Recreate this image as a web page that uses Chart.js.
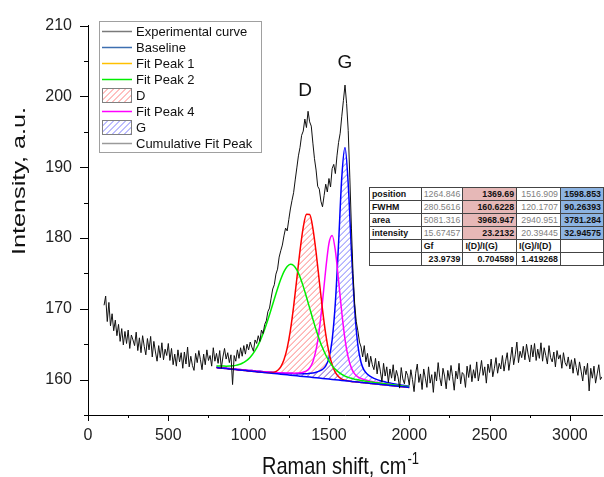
<!DOCTYPE html>
<html>
<head>
<meta charset="utf-8">
<script src="https://cdn.jsdelivr.net/npm/chart.js@4.4.0/dist/chart.umd.min.js"></script>
<style>
  html, body { margin: 0; padding: 0; background: #fff; }
  #wrap { position: relative; width: 604px; height: 477px; }
  #fitTable {
    position: absolute; left: 369px; top: 187px;
    border-collapse: collapse; table-layout: fixed;
    font-family: 'Liberation Sans', Arial, sans-serif; font-size: 8.8px;
    background: #fff;
  }
  #fitTable td {
    border: 1px solid #444; height: 12px; padding: 0 2px;
    text-align: right; color: #7f7f7f; white-space: nowrap; overflow: hidden;
  }
  #fitTable td.lbl { text-align: left; font-weight: bold; color: #111; }
  #fitTable td.hd { text-align: left; font-weight: bold; color: #111; }
  #fitTable td.b { font-weight: bold; color: #111; }
  #fitTable td.pink { background: #e6b8b7; font-weight: bold; color: #111; }
  #fitTable td.blue { background: #8db4e2; font-weight: bold; color: #111; }
</style>
</head>
<body>
<div id="wrap">
  <canvas id="ramanChart" width="604" height="477"></canvas>
  <table id="fitTable"></table>
</div>
<script>
// tick labels
const xTicks = [0, 500, 1000, 1500, 2000, 2500, 3000]
const yTicks = [160, 170, 180, 190, 200, 210]

// experimental spectrum, 100..3200 cm-1 every 10
const expShift = Array.from({ length: 311 }, (_, i) => 100 + i * 10)
const expIntensity = [
    170.5, 171.8, 168.2, 170.9, 167.6, 169.3, 166.9, 168.4, 166.2, 167.8,
    165.4, 167.2, 164.9, 166.8, 165.1, 167.0, 164.4, 166.3, 165.6, 164.8,
    166.7, 164.1, 165.9, 163.8, 166.2, 164.7, 163.5, 165.8, 164.2, 166.1,
    163.2, 165.4, 163.9, 162.6, 164.8, 163.1, 165.2, 162.8, 164.3, 163.4,
    165.1, 162.7, 164.4, 162.1, 163.6, 161.9, 164.2, 162.5, 163.8, 161.6,
    163.9, 162.2, 164.6, 161.8, 163.3, 162.0, 161.3, 163.7, 162.4, 164.1,
    162.8, 161.4, 163.6, 162.1, 164.2, 162.7, 163.4, 161.9, 164.5, 162.6,
    163.7, 162.3, 164.1, 161.6, 163.2, 164.4, 162.9, 163.8, 162.4, 163.5,
    159.3, 163.4, 162.6, 164.2, 163.0, 164.5, 163.3, 164.8, 163.6, 165.0,
    164.2, 165.3, 164.6, 164.0, 165.6, 165.1, 166.2, 165.4, 167.0, 166.5,
    167.8, 168.3, 169.6, 170.1, 171.5, 172.8, 173.4, 174.9, 175.6, 177.3,
    178.2, 179.0, 180.3, 181.4, 181.0, 182.6, 184.1, 185.3, 186.4, 188.2,
    189.9, 191.6, 192.8, 194.5, 195.1, 196.8, 195.6, 197.9, 196.4, 195.8,
    193.4, 191.2, 189.6, 187.3, 186.9, 185.2, 184.4, 186.0, 187.6, 186.5,
    188.4, 187.2, 189.8, 190.4, 189.1, 191.6, 193.5, 194.8, 197.2, 199.4,
    201.6, 199.0, 195.2, 188.6, 181.4, 175.0, 170.8, 168.2, 166.9, 165.3,
    164.6, 163.2, 164.8, 162.5, 163.7, 161.8, 163.3, 162.1, 161.4, 163.0,
    160.8, 162.6, 161.2, 159.7, 162.3, 160.5, 161.8, 159.6, 161.5, 160.2,
    162.1, 159.8, 161.3, 160.4, 158.8, 161.7, 160.1, 159.4, 161.2, 160.6,
    159.2, 161.4, 160.0, 158.3, 160.9, 162.2, 159.6, 160.8, 158.6, 161.5,
    160.2, 158.9, 161.8, 159.5, 160.7, 158.2, 161.1, 159.8, 162.4, 160.3,
    159.1, 161.6, 160.5, 158.7, 161.3, 159.9, 162.0, 160.4, 158.5, 161.2,
    160.1, 162.3, 159.4, 161.0, 160.7, 158.9, 161.9, 160.3, 162.1, 159.7,
    161.4, 160.2, 162.5, 159.8, 161.1, 162.7, 160.6, 161.8, 159.5, 162.2,
    161.0, 162.9, 160.4, 161.6, 163.1, 160.9, 162.3, 161.5, 163.4, 161.2,
    162.6, 163.8, 161.3, 162.9, 164.6, 162.1, 163.5, 165.3, 162.4, 164.0,
    163.1, 164.7, 162.8, 165.0, 163.6, 162.5, 164.9, 163.2, 165.1, 162.7,
    164.3, 163.0, 165.2, 162.6, 164.5, 163.4, 162.2, 164.8, 163.1, 162.5,
    163.9, 161.8, 164.1, 162.9, 163.5, 161.6, 163.8, 162.4, 161.9, 163.2,
    161.5, 162.8, 160.9, 163.0, 161.7, 160.6, 162.5, 161.2, 159.8, 161.9,
    160.7, 162.3, 158.4, 161.6, 160.2, 161.9, 159.5, 160.8, 162.1, 160.0,
    160.4
]

// fitted curves, 800..2000 cm-1 every 20
const fitShift = Array.from({ length: 61 }, (_, i) => 800 + i * 20)
const baseline = [
    161.70, 161.65, 161.61, 161.56, 161.51, 161.47, 161.42, 161.37, 161.33, 161.28,
    161.23, 161.19, 161.14, 161.09, 161.05, 161.00, 160.95, 160.91, 160.86, 160.81,
    160.77, 160.72, 160.67, 160.63, 160.58, 160.53, 160.49, 160.44, 160.39, 160.35,
    160.30, 160.25, 160.21, 160.16, 160.11, 160.07, 160.02, 159.97, 159.93, 159.88,
    159.83, 159.79, 159.74, 159.69, 159.65, 159.60, 159.55, 159.51, 159.46, 159.41,
    159.37, 159.32, 159.27, 159.23, 159.18, 159.13, 159.09, 159.04, 158.99, 158.95,
    158.90
]
const fitPeak2 = [
    161.94, 161.92, 161.91, 161.90, 161.91, 161.95, 162.01, 162.13, 162.31, 162.57,
    162.93, 163.44, 164.09, 164.91, 165.93, 167.11, 168.44, 169.89, 171.38, 172.84,
    174.16, 175.24, 175.97, 176.29, 176.12, 175.49, 174.48, 173.17, 171.67, 170.10,
    168.53, 167.03, 165.68, 164.49, 163.48, 162.65, 161.98, 161.45, 161.05, 160.74,
    160.50, 160.32, 160.18, 160.06, 159.97, 159.88, 159.80, 159.74, 159.67, 159.60,
    159.55, 159.49, 159.43, 159.38, 159.32, 159.26, 159.21, 159.16, 159.10, 159.05,
    159.00
]
const peakD = [
    161.70, 161.65, 161.61, 161.56, 161.51, 161.47, 161.42, 161.37, 161.33, 161.28,
    161.23, 161.19, 161.14, 161.09, 161.05, 161.01, 160.98, 160.99, 161.06, 161.29,
    161.81, 162.79, 164.44, 166.95, 170.30, 174.24, 178.23, 181.51, 183.35, 183.31,
    181.37, 177.99, 173.92, 169.88, 166.43, 163.84, 162.09, 161.01, 160.41, 160.08,
    159.91, 159.82, 159.74, 159.69, 159.65, 159.60, 159.55, 159.51, 159.46, 159.41,
    159.37, 159.32, 159.27, 159.23, 159.18, 159.13, 159.09, 159.04, 158.99, 158.95,
    158.90
]
const fitPeak4 = [
    161.74, 161.69, 161.65, 161.61, 161.56, 161.52, 161.48, 161.43, 161.39, 161.35,
    161.30, 161.27, 161.23, 161.18, 161.15, 161.11, 161.07, 161.05, 161.01, 160.98,
    160.96, 160.94, 160.92, 160.92, 160.91, 160.92, 160.97, 161.05, 161.22, 161.64,
    162.53, 164.22, 167.07, 171.04, 175.55, 179.25, 180.37, 178.22, 174.01, 169.45,
    165.69, 163.13, 161.62, 160.81, 160.40, 160.16, 160.00, 159.88, 159.78, 159.68,
    159.61, 159.53, 159.45, 159.39, 159.33, 159.26, 159.21, 159.15, 159.09, 159.04,
    158.98
]
const peakG = [
    161.74, 161.69, 161.65, 161.61, 161.56, 161.52, 161.47, 161.43, 161.39, 161.34,
    161.30, 161.27, 161.22, 161.18, 161.15, 161.11, 161.07, 161.04, 161.00, 160.96,
    160.94, 160.90, 160.87, 160.86, 160.84, 160.82, 160.83, 160.83, 160.84, 160.89,
    160.94, 161.04, 161.20, 161.45, 161.93, 163.04, 165.62, 170.88, 179.26, 188.56,
    192.77, 187.64, 178.12, 169.93, 164.89, 162.41, 161.29, 160.76, 160.42, 160.18,
    160.00, 159.85, 159.72, 159.61, 159.51, 159.42, 159.35, 159.27, 159.19, 159.13,
    159.06
]

// fit results table
const tableRows = [
    ['position', '1264.846', '1369.69', '1516.909', '1598.853'],
    ['FWHM', '280.5616', '160.6228', '120.1707', '90.26393'],
    ['area', '5081.316', '3968.947', '2940.951', '3781.284'],
    ['intensity', '15.67457', '23.2132', '20.39445', '32.94575'],
    ['', 'Gf', 'I(D)/I(G)', 'I(G)/I(D)', ''],
    ['', '23.9739', '0.704589', '1.419268', '']
]
const colWidths = [52, 41, 54, 44, 43]

function buildTable() {
    const tbl = document.getElementById('fitTable')
    const cg = document.createElement('colgroup')
    colWidths.forEach(w => {
        const c = document.createElement('col')
        c.style.width = w + 'px'
        cg.appendChild(c)
    })
    tbl.appendChild(cg)
    tableRows.forEach((row, r) => {
        const tr = document.createElement('tr')
        row.forEach((txt, c) => {
            const td = document.createElement('td')
            td.textContent = txt
            if (r < 4) {
                if (c === 0) td.className = 'lbl'
                else if (c === 2) td.className = 'pink'
                else if (c === 4) td.className = 'blue'
            } else if (r === 4) {
                td.className = 'hd'
            } else {
                td.className = 'b'
            }
            tr.appendChild(td)
        })
        tbl.appendChild(tr)
    })
}
buildTable()

const toPts = (xs, ys) => ys.map((v, i) => ({ x: xs[i], y: v }))

// datasets 4 (D) and 6 (G) get hatched down to the baseline (dataset 1)
const hatched = [
    { index: 4, color: '#ff8080' },
    { index: 6, color: '#7d7dff' }
]

// diagonal "/" lines inside the current clip, over a box
function hatchLines(ctx, x0, y0, x1, y1, color, gap) {
    ctx.strokeStyle = color
    ctx.lineWidth = 1
    ctx.beginPath()
    const h = y1 - y0
    for (let s = x0 - h; s <= x1 + gap; s += gap) {
        ctx.moveTo(s, y1)
        ctx.lineTo(s + h, y0)
    }
    ctx.stroke()
}

const legendItems = [
    { text: 'Experimental curve', color: '#7a7a7a' },
    { text: 'Baseline', color: '#3d6fb0' },
    { text: 'Fit Peak 1', color: '#ffc000' },
    { text: 'Fit Peak 2', color: '#00ee00' },
    { text: 'D', box: '#ff8080' },
    { text: 'Fit Peak 4', color: '#ff00ff' },
    { text: 'G', box: '#7d7dff' },
    { text: 'Cumulative Fit Peak', color: '#9a9a9a' }
]

const hatchFill = {
    id: 'hatchFill',
    beforeDatasetsDraw(chart) {
        const { ctx, chartArea: a } = chart
        const base = chart.getDatasetMeta(1).data
        hatched.forEach(h => {
            const pts = chart.getDatasetMeta(h.index).data
            ctx.save()
            ctx.beginPath()
            ctx.rect(a.left, a.top, a.right - a.left, a.bottom - a.top)
            ctx.clip()
            ctx.beginPath()
            pts.forEach((p, i) => i ? ctx.lineTo(p.x, p.y) : ctx.moveTo(p.x, p.y))
            for (let i = base.length - 1; i >= 0; i--) ctx.lineTo(base[i].x, base[i].y)
            ctx.closePath()
            ctx.clip()
            hatchLines(ctx, a.left, a.top, a.right, a.bottom, h.color, 6)
            ctx.restore()
        })
    }
}

const decor = {
    id: 'decor',
    afterDraw(chart) {
        const { ctx, chartArea: a, scales: { x, y } } = chart
        ctx.save()
        // tick marks
        ctx.strokeStyle = '#000'
        ctx.lineWidth = 1
        ctx.beginPath()
        for (let v = 0; v <= 3200; v += 250) {
            const px = Math.round(x.getPixelForValue(v)) + 0.5
            const len = v % 500 === 0 ? 6 : 3
            ctx.moveTo(px, a.bottom); ctx.lineTo(px, a.bottom + len)
        }
        for (let v = 155; v <= 210; v += 5) {
            const py = Math.round(y.getPixelForValue(v)) + 0.5
            const len = v % 10 === 0 ? 8 : 4
            ctx.moveTo(a.left, py); ctx.lineTo(a.left - len, py)
        }
        ctx.stroke()

        // axis titles
        ctx.fillStyle = '#111'
        ctx.textBaseline = 'alphabetic'
        ctx.font = '20px "Liberation Sans", Arial, sans-serif'
        const main = 'Raman shift, cm'
        const w1 = ctx.measureText(main).width
        ctx.font = '13px "Liberation Sans", Arial, sans-serif'
        const w2 = ctx.measureText('-1').width
        const sx = 340 - (w1 + w2) / 2
        ctx.save()
        ctx.translate(sx, 474)
        ctx.scale(1, 1.2)
        ctx.font = '20px "Liberation Sans", Arial, sans-serif'
        ctx.fillText(main, 0, 0)
        ctx.font = '13px "Liberation Sans", Arial, sans-serif'
        ctx.fillText('-1', w1 + 1, -8)
        ctx.restore()

        ctx.save()
        ctx.translate(25, 181)
        ctx.rotate(-Math.PI / 2)
        ctx.scale(1.4, 1)
        ctx.font = '18px "Liberation Sans", Arial, sans-serif'
        ctx.textAlign = 'center'
        ctx.fillText('Intensity, a.u.', 0, 0)
        ctx.restore()

        // peak labels
        ctx.font = '19px "Liberation Sans", Arial, sans-serif'
        ctx.textAlign = 'center'
        ctx.textBaseline = 'middle'
        ctx.fillText('D', x.getPixelForValue(1351), y.getPixelForValue(200.8))
        ctx.fillText('G', x.getPixelForValue(1600), y.getPixelForValue(204.8))

        // legend
        const lx = 99.5, ly = 21.5, lw = 162, lh = 131
        ctx.fillStyle = '#fff'
        ctx.fillRect(lx, ly, lw, lh)
        ctx.strokeStyle = '#a0a0a0'
        ctx.strokeRect(lx, ly, lw, lh)
        ctx.font = '13px "Liberation Sans", Arial, sans-serif'
        ctx.textAlign = 'left'
        legendItems.forEach((it, i) => {
            const cy = 31.5 + i * 16
            if (it.box) {
                ctx.save()
                ctx.beginPath()
                ctx.rect(102.5, cy - 7, 29, 14)
                ctx.clip()
                hatchLines(ctx, 102, cy - 7, 132, cy + 7, it.box, 6)
                ctx.restore()
                ctx.strokeStyle = '#808080'
                ctx.strokeRect(102.5, cy - 7, 29, 14)
            } else {
                ctx.strokeStyle = it.color
                ctx.lineWidth = 1.5
                ctx.beginPath()
                ctx.moveTo(102, cy); ctx.lineTo(132, cy)
                ctx.stroke()
                ctx.lineWidth = 1
            }
            ctx.fillStyle = '#111'
            ctx.fillText(it.text, 136, cy + 0.5)
        })
        ctx.restore()
    }
}

new Chart(document.getElementById('ramanChart'), {
    type: 'line',
    data: {
        datasets: [
            {
                label: 'Experimental curve',
                data: toPts(expShift, expIntensity),
                borderColor: '#111',
                borderWidth: 1,
                pointRadius: 0,
                tension: 0
            },
            {
                label: 'Baseline',
                data: toPts(fitShift, baseline),
                borderColor: '#0000ff',
                borderWidth: 1.5,
                pointRadius: 0
            },
            {
                label: 'Fit Peak 1',
                data: [],
                borderColor: '#ffc000',
                pointRadius: 0
            },
            {
                label: 'Fit Peak 2',
                data: toPts(fitShift, fitPeak2),
                borderColor: '#00ee00',
                borderWidth: 1.5,
                pointRadius: 0,
                cubicInterpolationMode: 'monotone'
            },
            {
                label: 'D',
                data: toPts(fitShift, peakD),
                borderColor: '#ff0000',
                borderWidth: 1.5,
                pointRadius: 0,
                cubicInterpolationMode: 'monotone'
            },
            {
                label: 'Fit Peak 4',
                data: toPts(fitShift, fitPeak4),
                borderColor: '#ff00ff',
                borderWidth: 1.5,
                pointRadius: 0,
                cubicInterpolationMode: 'monotone'
            },
            {
                label: 'G',
                data: toPts(fitShift, peakG),
                borderColor: '#0000ff',
                borderWidth: 1.5,
                pointRadius: 0,
                cubicInterpolationMode: 'monotone'
            },
            {
                label: 'Cumulative Fit Peak',
                data: [],
                borderColor: '#9a9a9a',
                pointRadius: 0
            }
        ]
    },
    options: {
        responsive: false,
        animation: false,
        layout: { padding: { top: 22, right: 2, left: 0, bottom: 0 } },
        plugins: {
            legend: { display: false },
            tooltip: { enabled: false }
        },
        scales: {
            x: {
                type: 'linear',
                min: 0,
                max: 3200,
                grid: { display: false, drawTicks: false },
                border: { display: true, color: '#000', width: 1 },
                afterBuildTicks: s => { s.ticks = xTicks.map(v => ({ value: v })) },
                afterFit: s => { s.height = 62 },
                ticks: {
                    font: { size: 16, family: '"Liberation Sans", Arial, sans-serif' },
                    color: '#222',
                    padding: 11,
                    maxRotation: 0,
                    callback: v => String(v)
                }
            },
            y: {
                min: 155,
                max: 210,
                grid: { display: false, drawTicks: false },
                border: { display: true, color: '#000', width: 1 },
                afterBuildTicks: s => { s.ticks = yTicks.map(v => ({ value: v })) },
                afterFit: s => { s.width = 88 },
                ticks: {
                    font: { size: 16, family: '"Liberation Sans", Arial, sans-serif' },
                    color: '#222',
                    padding: 16,
                    callback: v => String(v)
                }
            }
        }
    },
    plugins: [hatchFill, decor]
})
</script>
</body>
</html>
